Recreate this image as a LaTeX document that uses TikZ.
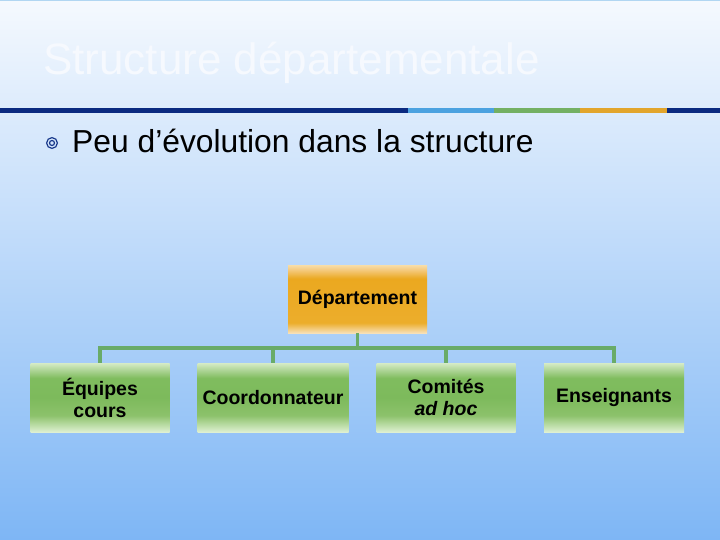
\documentclass[tikz,border=0pt]{standalone}
\usepackage{fontspec}
\setmainfont{Liberation Sans}
\definecolor{bgTop}{HTML}{F5F9FE}
\definecolor{bgBot}{HTML}{7EB6F5}
\definecolor{titleC}{HTML}{F6F9FE}
\definecolor{darkBlue}{HTML}{0B2A80}
\definecolor{lBlue}{HTML}{4CA2E0}
\definecolor{sGreen}{HTML}{74B063}
\definecolor{sOrange}{HTML}{E2A52C}
\definecolor{connGreen}{HTML}{69AB68}
\definecolor{bulletC}{HTML}{1A3A8C}
\pgfdeclareverticalshading{orangesh}{100bp}{%
  rgb(0bp)=(0.97,0.88,0.72);
  rgb(25bp)=(0.97,0.88,0.72);
  rgb(32.5bp)=(0.925,0.68,0.17);
  rgb(65bp)=(0.92,0.66,0.125);
  rgb(72bp)=(0.96,0.80,0.52);
  rgb(75bp)=(0.97,0.87,0.66);
  rgb(100bp)=(0.97,0.87,0.66)}
\pgfdeclareverticalshading{greensh}{100bp}{%
  rgb(0bp)=(0.87,0.94,0.82);
  rgb(25bp)=(0.87,0.94,0.82);
  rgb(37bp)=(0.55,0.76,0.42);
  rgb(50bp)=(0.49,0.73,0.36);
  rgb(64bp)=(0.50,0.74,0.37);
  rgb(75bp)=(0.84,0.92,0.78);
  rgb(100bp)=(0.84,0.92,0.78)}
\begin{document}
\begin{tikzpicture}[x=1pt,y=-1pt,
  conn/.style={draw=connGreen,line width=3.4pt},
  greenbox/.style={minimum width=139pt,minimum height=69pt,inner sep=0pt,
    shading=greensh,align=center,
    font=\fontsize{19.5}{22}\selectfont\bfseries},
  orangebox/.style={minimum width=139pt,minimum height=68pt,inner sep=0pt,
    shading=orangesh,align=center,
    font=\fontsize{19.5}{22}\selectfont\bfseries}]
\useasboundingbox (0,0) rectangle (720,540);
\shade[top color=bgTop,bottom color=bgBot] (0,0) rectangle (720,540);
\fill[bgTop!60!lBlue] (0,0) rectangle (720,1.5);
% title
\node[anchor=base west,inner sep=0pt,text=titleC,font=\fontsize{44}{50}\selectfont] (title) at (43,75) {Structure départementale};
% stripe
\fill[darkBlue] (0,108) rectangle (408,113);
\fill[lBlue] (408,108) rectangle (494,113);
\fill[sGreen] (494,108) rectangle (580,113);
\fill[sOrange] (580,108) rectangle (667,113);
\fill[darkBlue] (667,108) rectangle (720,113);
% bullet
\draw[bulletC,line width=1.2pt] (52,143) circle (5.4);
\draw[bulletC,line width=1.2pt] (52,143) circle (2.5);
\node[anchor=base west,inner sep=0pt,font=\fontsize{31.8}{36}\selectfont] (bullet) at (72,153) {Peu d’évolution dans la structure};
% boxes
\node[orangebox] (dep) at (357.5,299) {Département};
\node[greenbox] (eq) at (100,397.5) {Équipes\\cours};
\node[greenbox,minimum width=151pt] (co) at (273,397.5) {Coordonnateur};
\node[greenbox] (cm) at (446,397.5) {Comités\\\textit{ad hoc}};
\node[greenbox,minimum width=140pt] (en) at (614,397.5) {Enseignants};
% connectors
\coordinate (bar) at (357.5,348);
\draw[conn] (dep.south) -- (bar);
\draw[conn] (eq.north) -- (eq.north |- bar) -- (en.north |- bar) -- (en.north);
\draw[conn] (co.north) -- (co.north |- bar);
\draw[conn] (cm.north) -- (cm.north |- bar);
\end{tikzpicture}
\end{document}
